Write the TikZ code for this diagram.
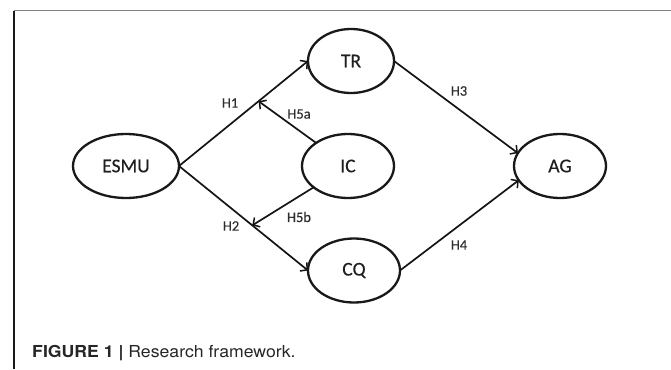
\documentclass[tikz,border=0pt]{standalone}
\usepackage{fontspec}
\setmainfont{Carlito}[FakeBold=0.4]
\newfontfamily\capfont{TeX Gyre Heros}
\usetikzlibrary{shapes.geometric,arrows.meta,calc}
\tikzset{
  construct/.style={ellipse,draw=black!90,line width=2.3pt,inner sep=0pt,outer sep=0pt,
    minimum height=64pt,font=\fontsize{19.5}{20}\selectfont,text=black!88},
  link/.style={draw=black!92,line width=1.7pt,-{Straight Barb[length=5pt,width=11pt,line width=1.5pt]}},
  hlabel/.style={inner sep=0pt,font=\fontsize{14.5}{15}\selectfont,text=black!82}
}
\begin{document}
\begin{tikzpicture}[x=1pt,y=-1pt]
\useasboundingbox (0,0) rectangle (671,369);
% frame
\draw[draw=black!50,line width=1.4pt] (14,10.7) -- (671,10.7);
\draw[draw=black!90,line width=1.1pt] (14,10.7) -- (14,369);
% constructs
\node[construct,minimum width=106pt] (ESMU) at (126,166) {ESMU};
\node[construct,minimum width=86pt] (TR) at (351,61) {TR};
\node[construct,minimum width=92pt] (IC) at (348,166) {IC};
\node[construct,minimum width=92pt] (AG) at (560,166) {AG};
\node[construct,minimum width=92pt] (CQ) at (354,270.5) {CQ};
% junctions
\coordinate (j1) at ($(ESMU.east)!0.617!(TR.west)$);
\coordinate (j2) at ($(ESMU.east)!0.568!(CQ.west)$);
% connectors
\draw[link] (ESMU.east) -- (TR.west);
\draw[link] (ESMU.east) -- (CQ.west);
\draw[link] (IC) -- (j1);
\draw[link] (IC) -- (j2);
\draw[link] (TR.east) -- (AG.163);
\draw[link] (CQ.east) -- (AG.199);
% labels
\node[hlabel] (h1) at (230,103) {H1};
\node[hlabel] (h5a) at (299,114) {H5a};
\node[hlabel] (h2) at (231,226) {H2};
\node[hlabel] (h5b) at (299,217) {H5b};
\node[hlabel] (h3) at (459,91) {H3};
\node[hlabel] (h4) at (459,245) {H4};
% caption
\node[anchor=base west,inner sep=0pt,xscale=1.07,font=\capfont\fontsize{16.5}{17}\selectfont,text=black!85] (cap) at (32,357)
  {\textbf{FIGURE 1 |} Research framework.};
\end{tikzpicture}
\end{document}
